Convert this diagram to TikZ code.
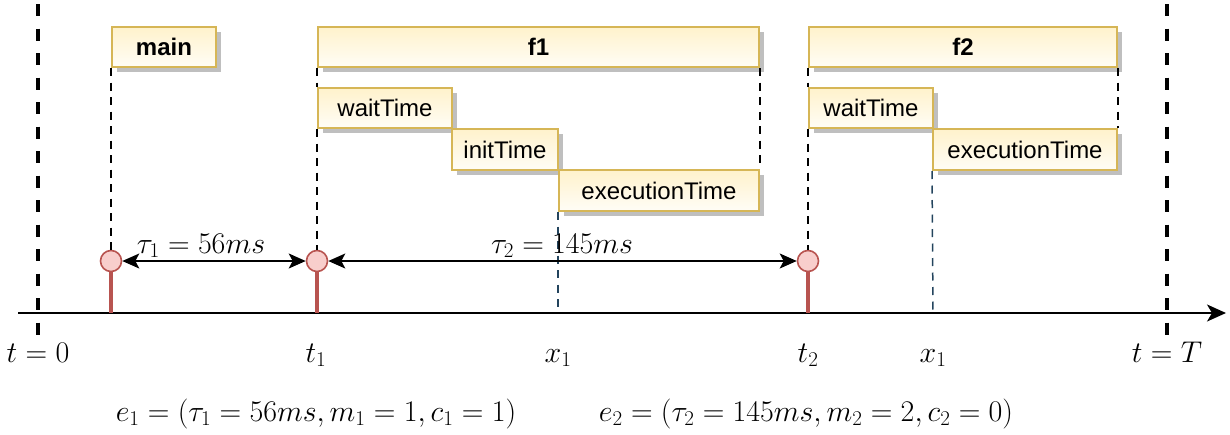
\RequirePackage{fix-cm}
\documentclass[tikz,border=0pt]{standalone}
\usepackage[no-math]{fontspec}
\setmainfont{Liberation Sans}
\usetikzlibrary{arrows.meta,shadows}
\definecolor{boxborder}{HTML}{D6B656}
\definecolor{boxtop}{HTML}{FFF2CC}
\definecolor{boxbot}{HTML}{FFFDF6}
\definecolor{evfill}{HTML}{F8CECC}
\definecolor{evdraw}{HTML}{B85450}
\definecolor{slate}{HTML}{23445D}
\tikzset{
  tbox/.style={draw=boxborder, line width=2pt, top color=boxtop, bottom color=boxbot,
    font=\fontsize{24}{27}\selectfont, inner sep=0pt, anchor=north west,
    drop shadow={shadow xshift=5pt, shadow yshift=-5pt, fill=black!25, opacity=1}},
  evt/.style={circle, minimum size=21pt, inner sep=0pt, fill=evfill, draw=evdraw, line width=1.6pt},
  stem/.style={draw=evdraw, line width=3.2pt},
  guide/.style={draw=black, line width=1.5pt, dash pattern=on 8pt off 6.5pt},
  guideb/.style={draw=slate, line width=1.5pt, dash pattern=on 8pt off 6.5pt},
  bound/.style={draw=black, line width=4pt, dash pattern=on 12pt off 12.5pt},
  mlab/.style={font=\fontsize{30}{34}\selectfont, anchor=base, inner sep=0pt},
  span/.style={line width=1.6pt, {Stealth[length=17pt,width=15pt,inset=4pt]}-{Stealth[length=17pt,width=15pt,inset=4pt]}},
}
\begin{document}
\begin{tikzpicture}[x=1pt,y=-1pt]
\useasboundingbox (0,0) rectangle (1230,434);
% boundaries
\coordinate (b0t) at (38,4);
\coordinate (b0b) at (38,335);
\coordinate (bTt) at (1167,4);
\coordinate (bTb) at (1167,335);
\draw[bound] (b0t) -- (b0b);
\draw[bound] (bTt) -- (bTb);
% axis
\coordinate (axL) at (18,313);
\coordinate (axR) at (1226,313);
\coordinate (a1) at (111,313);
\coordinate (a2) at (317,313);
\coordinate (a3) at (808,313);
\coordinate (ax1) at (558,313);
\coordinate (ax2) at (933,313);
% boxes
\node[tbox, minimum width=104pt, minimum height=40pt] (main) at (111,26) {\textbf{main}};
\node[tbox, minimum width=441pt, minimum height=40pt] (f1) at (317,26) {\textbf{f1}};
\node[tbox, minimum width=308pt, minimum height=40pt] (f2) at (808,26) {\textbf{f2}};
\node[tbox, minimum width=134pt, minimum height=40pt] (w1) at (317,87) {waitTime};
\node[tbox, minimum width=106pt, minimum height=41pt] (i1) at (451,128) {initTime};
\node[tbox, minimum width=200pt, minimum height=41pt] (e1) at (558,169) {executionTime};
\node[tbox, minimum width=124pt, minimum height=40pt] (w2) at (808,87) {waitTime};
\node[tbox, minimum width=184pt, minimum height=41pt] (e2) at (932,128) {executionTime};
% events
\node[evt] (c1) at (111,261) {};
\node[evt] (c2) at (317,261) {};
\node[evt] (c3) at (808,261) {};
% guides
\draw[guide] (main.south west) -- (c1.north);
\draw[guide] (f1.south west) -- (w1.north west);
\draw[guide] (w1.south west) -- (c2.north);
\draw[guide] (f1.south east) -- (e1.north east);
\draw[guideb] (e1.south west) -- (ax1);
\draw[guide] (f2.south west) -- (w2.north west);
\draw[guide] (w2.south west) -- (c3.north);
\draw[guide] (f2.south east) -- (e2.north east);
\draw[guideb] (e2.south west) -- (ax2);
% axis line
\draw[line width=1.6pt, -{Stealth[length=19pt,width=17pt,inset=5pt]}] (axL) -- (axR);
% stems
\draw[stem] (c1.south) -- (a1);
\draw[stem] (c2.south) -- (a2);
\draw[stem] (c3.south) -- (a3);
% spans
\draw[span] (c1.east) -- (c2.west);
\draw[span] (c2.east) -- (c3.west);
\node[mlab] (tau1) at (201,253) {$\tau_1 = 56ms$};
\node[mlab] (tau2) at (562,253) {$\tau_2 = 145ms$};
% axis labels
\node[mlab] (l0) at (38,362) {$t=0$};
\node[mlab] (lt1) at (316,362) {$t_1$};
\node[mlab] (lx1) at (558,362) {$x_1$};
\node[mlab] (lt2) at (808,362) {$t_2$};
\node[mlab] (lx2) at (933,362) {$x_1$};
\node[mlab] (lT) at (1167,362) {$t=T$};
% formulas
\node[mlab] (ev1) at (316,421) {$e_1 = (\tau_1 = 56ms, m_1 = 1, c_1 = 1)$};
\node[mlab] (ev2) at (806,421) {$e_2 = (\tau_2 = 145ms, m_2 = 2, c_2 = 0)$};
\end{tikzpicture}
\end{document}
